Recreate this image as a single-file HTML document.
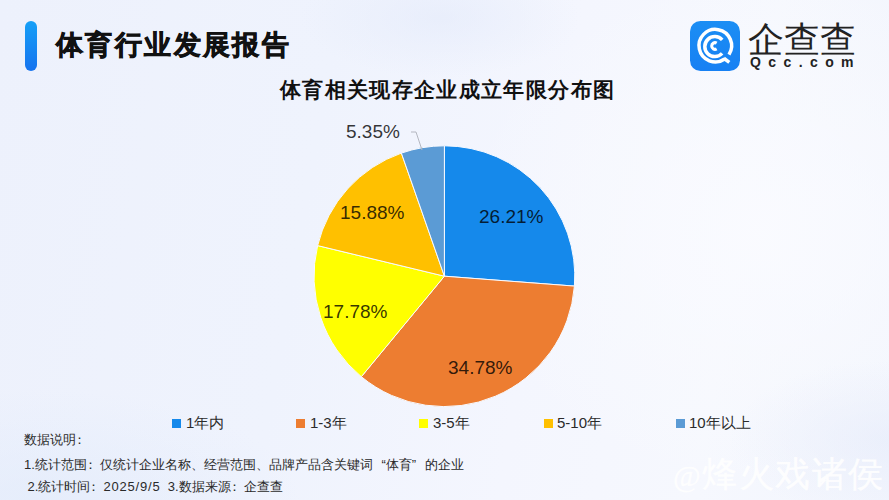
<!DOCTYPE html>
<html><head><meta charset="utf-8">
<style>
html,body{margin:0;padding:0;}
body{width:889px;height:500px;overflow:hidden;position:relative;font-family:"Liberation Sans",sans-serif;
background:radial-gradient(ellipse 260px 110px at 40px 500px,rgba(226,235,251,.7),rgba(226,235,251,0)),radial-gradient(ellipse 140px 60px at 440px 18px,rgba(226,233,250,.55),rgba(226,233,250,0)),radial-gradient(ellipse 160px 80px at 889px 440px,rgba(228,234,250,.55),rgba(228,234,250,0)),radial-gradient(ellipse 300px 260px at 760px 230px,rgba(250,251,255,.9),rgba(250,251,255,0)),linear-gradient(100deg,#edf1fc 0%,#eff3fd 35%,#f4f6fe 60%,#f6f8fe 80%,#f2f5fd 100%);}
.abs{position:absolute;white-space:nowrap;}
#bar{left:25px;top:21px;width:12px;height:50px;border-radius:6px;background:linear-gradient(180deg,#16a0f7,#1673ef);}
#title{left:56px;top:26.5px;font-size:27px;font-weight:bold;color:#111;line-height:36px;letter-spacing:2.4px;-webkit-text-stroke:0.7px #111;}
#sub{left:280px;top:76px;font-size:21px;font-weight:bold;color:#111;line-height:28px;letter-spacing:1.35px;}
.lbl{font-size:19px;color:rgba(0,0,0,.8);line-height:20px;}
.leg{font-size:15px;color:#2b2b2b;line-height:16px;}
.sq{width:9px;height:9px;}
.note{font-size:13px;color:#2a2a2a;line-height:16px;}
.fw{display:inline-block;width:13px;text-align:left;text-indent:-3px;}
.ql{text-align:right;text-indent:0;}
.qr{text-align:left;text-indent:0;}
#wm{left:673px;top:455px;font-family:"Liberation Serif",serif;font-size:35px;color:rgba(255,255,255,.9);line-height:40px;letter-spacing:1.5px;-webkit-text-stroke:0.3px rgba(255,255,255,.9);}
#wm .at{font-size:30px;}
</style></head>
<body>
<div id="bar" class="abs"></div>
<div id="title" class="abs">体育行业发展报告</div>
<div id="sub" class="abs">体育相关现存企业成立年限分布图</div>

<!-- logo -->
<svg class="abs" style="left:690px;top:21px" width="50" height="50" viewBox="0 0 50 50">
<defs><linearGradient id="lg" x1="0" y1="0" x2="0" y2="1"><stop offset="0" stop-color="#1b8ef4"/><stop offset="1" stop-color="#1780f3"/></linearGradient></defs>
<rect x="0" y="0" width="50" height="50" rx="10.5" fill="url(#lg)"/>
<g fill="none" stroke="#fff" stroke-width="3.5">
<path d="M34.65,38.05 A16.3,16.3 0 1 1 38.97,33.58"/>
<path d="M33.85,37.25 L39.3,41.3"/>
<path d="M32.11,32.42 A10.0,10.0 0 1 1 32.23,18.91"/>
<path d="M26.65,27.86 A3.3,3.3 0 1 1 26.65,22.14" stroke-width="3.1"/>
</g>
</svg>
<div class="abs" style="left:748px;top:19px;font-size:36px;color:#222;line-height:42px;">企查查</div>
<div class="abs" style="left:750px;top:54px;font-size:14px;font-weight:bold;color:#222;letter-spacing:7.4px;line-height:16px;">Qcc.com</div>

<!-- pie -->
<svg class="abs" style="left:0;top:0" width="889" height="500" viewBox="0 0 889 500" id="pie">
<g stroke="#f8faff" stroke-width="1" stroke-linejoin="round">
<path d="M444.4,276.2 L444.40,145.80 A130.4,130.4 0 0 1 574.42,286.10 Z" fill="#1589eb"/>
<path d="M444.4,276.2 L574.42,286.10 A130.4,130.4 0 0 1 361.34,376.73 Z" fill="#ed7d31"/>
<path d="M444.4,276.2 L361.34,376.73 A130.4,130.4 0 0 1 317.64,245.60 Z" fill="#ffff00"/>
<path d="M444.4,276.2 L317.64,245.60 A130.4,130.4 0 0 1 401.39,153.10 Z" fill="#ffc000"/>
<path d="M444.4,276.2 L401.39,153.10 A130.4,130.4 0 0 1 444.40,145.80 Z" fill="#5b9bd5"/>
</g>
<path d="M411,132 L416,132 L422,150" fill="none" stroke="#b4b7c0" stroke-width="1"/>
</svg>

<div class="abs lbl" style="left:479px;top:207px">26.21%</div>
<div class="abs lbl" style="left:448px;top:358px">34.78%</div>
<div class="abs lbl" style="left:323px;top:302px">17.78%</div>
<div class="abs lbl" style="left:340px;top:203px">15.88%</div>
<div class="abs lbl" style="left:346px;top:122px">5.35%</div>

<!-- legend -->
<div class="abs sq" style="left:172px;top:419px;background:#1589eb"></div>
<div class="abs leg" style="left:186px;top:415px">1年内</div>
<div class="abs sq" style="left:296px;top:419px;background:#ed7d31"></div>
<div class="abs leg" style="left:310px;top:415px">1-3年</div>
<div class="abs sq" style="left:419px;top:419px;background:#ffff00"></div>
<div class="abs leg" style="left:433px;top:415px">3-5年</div>
<div class="abs sq" style="left:544px;top:419px;background:#ffc000"></div>
<div class="abs leg" style="left:557px;top:415px">5-10年</div>
<div class="abs sq" style="left:676px;top:419px;background:#5b9bd5"></div>
<div class="abs leg" style="left:689px;top:415px">10年以上</div>

<div class="abs note" style="left:24px;top:432px">数据说明<span class="fw">：</span></div>
<div class="abs note" style="left:24px;top:457px">1.统计范围<span class="fw">：</span>仅统计企业名称、经营范围、品牌产品含关键词<span class="fw ql">“</span>体育<span class="fw qr">”</span>的企业</div>
<div class="abs note" style="left:24px;top:479px">&nbsp;2.统计时间<span class="fw">：</span><span style="letter-spacing:.8px">2025/9/5</span>&nbsp;&nbsp;3.数据来源<span class="fw">：</span>企查查</div>

<div id="wm" class="abs"><span class="at">@</span>烽火戏诸侯</div>
</body></html>
